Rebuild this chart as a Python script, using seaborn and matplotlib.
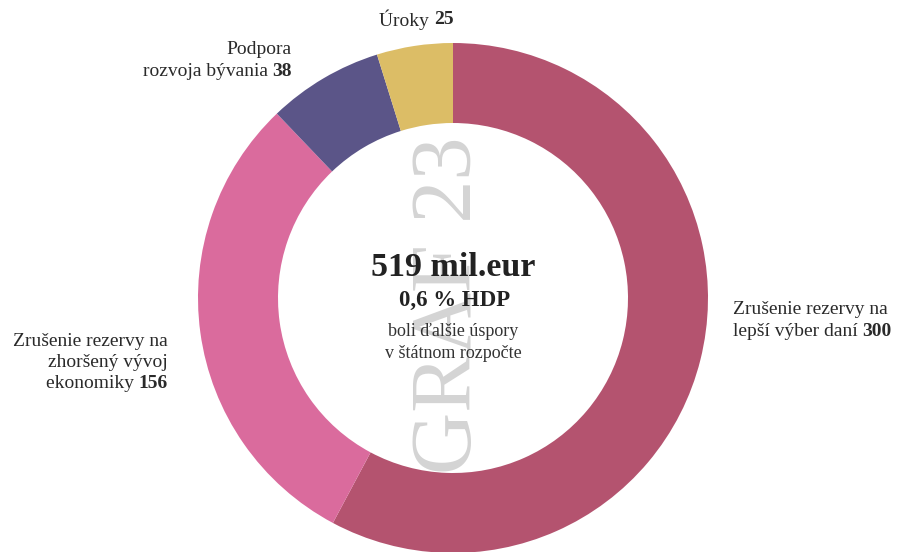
import matplotlib
matplotlib.use("Agg")
import matplotlib.pyplot as plt
import seaborn as sns

# ---- data ----
categories = ["Zrušenie rezervy na\nlepší výber daní",
              "Zrušenie rezervy na\nzhoršený vývoj\nekonomiky",
              "Podpora\nrozvoja bývania",
              "Úroky"]
values = [300, 156, 38, 25]
colors = ["#B4536F", "#DA6B9D", "#5B5588", "#DCBD66"]
total_label = "519 mil.eur"
sub_label = "0,6 % HDP"
note_label = "boli ďalšie úspory\nv štátnom rozpočte"
watermark = "GRAF 23"

sns.set_theme(style="white")
plt.rcParams["font.family"] = ["Liberation Serif", "DejaVu Serif"]

W, H = 914, 552
fig = plt.figure(figsize=(W / 100, H / 100), dpi=100)
ax = fig.add_axes([0, 0, 1, 1])

def Y(ypx):
    return H - ypx

cx, cy, R, width = 453, Y(298), 255, 80
ax.pie(values, colors=colors, startangle=90, counterclock=False,
       center=(cx, cy), radius=R,
       wedgeprops=dict(width=width, edgecolor="none", linewidth=0))
ax.set_xlim(0, W)
ax.set_ylim(0, H)
ax.set_aspect("auto")
ax.axis("off")

# watermark
ax.text(450, Y(305), watermark, rotation=90, ha="center", va="center",
        fontsize=62, color="#d4d4d4", zorder=1)

# center text
ax.text(cx, Y(268), total_label, ha="center", va="center", fontsize=24.5,
        fontweight="bold", color="#222222", zorder=5)
ax.text(cx + 2, Y(300), sub_label, ha="center", va="center", fontsize=16.5,
        fontweight="bold", color="#222222", zorder=5)
ax.text(cx, Y(332), note_label.split("\n")[0], ha="center", va="center",
        fontsize=13, color="#333333", zorder=5)
ax.text(cx, Y(354), note_label.split("\n")[1], ha="center", va="center",
        fontsize=13, color="#333333", zorder=5)

fs = 14
tc = "#2a2a2a"

def label_left(x, y_last, text, num, step=21):
    lines = text.split("\n")
    n = len(lines)
    for i, ln in enumerate(lines[:-1]):
        ax.text(x, Y(y_last - (n - 1 - i) * step), ln, ha="left", va="center",
                fontsize=fs, color=tc)
    t = ax.text(x, Y(y_last), lines[-1] + " ", ha="left", va="center",
                fontsize=fs, color=tc)
    ax.annotate(str(num), xy=(1, 0.5), xycoords=t, ha="left", va="center",
                fontsize=fs, fontweight="bold", color=tc)

def label_right(x, y_last, text, num, step=21):
    lines = text.split("\n")
    n = len(lines)
    for i, ln in enumerate(lines[:-1]):
        ax.text(x, Y(y_last - (n - 1 - i) * step), ln, ha="right", va="center",
                fontsize=fs, color=tc)
    b = ax.text(x, Y(y_last), str(num), ha="right", va="center",
                fontsize=fs, fontweight="bold", color=tc)
    ax.annotate(lines[-1] + " ", xy=(0, 0.5), xycoords=b, ha="right", va="center",
                fontsize=fs, color=tc)

label_left(733, 331, categories[0], values[0], step=21)
label_right(168, 383, categories[1], values[1], step=20.5)
label_right(292, 72, categories[2], values[2], step=22.5)

# Úroky label
b = ax.text(379, Y(20), categories[3] + " ", ha="left", va="center",
            fontsize=fs, color=tc)
ax.annotate(str(values[3]), xy=(1, 0.5), xycoords=b, ha="left", va="center",
            fontsize=fs, fontweight="bold", color=tc)

fig.savefig("out.png", dpi=100, facecolor="white")
